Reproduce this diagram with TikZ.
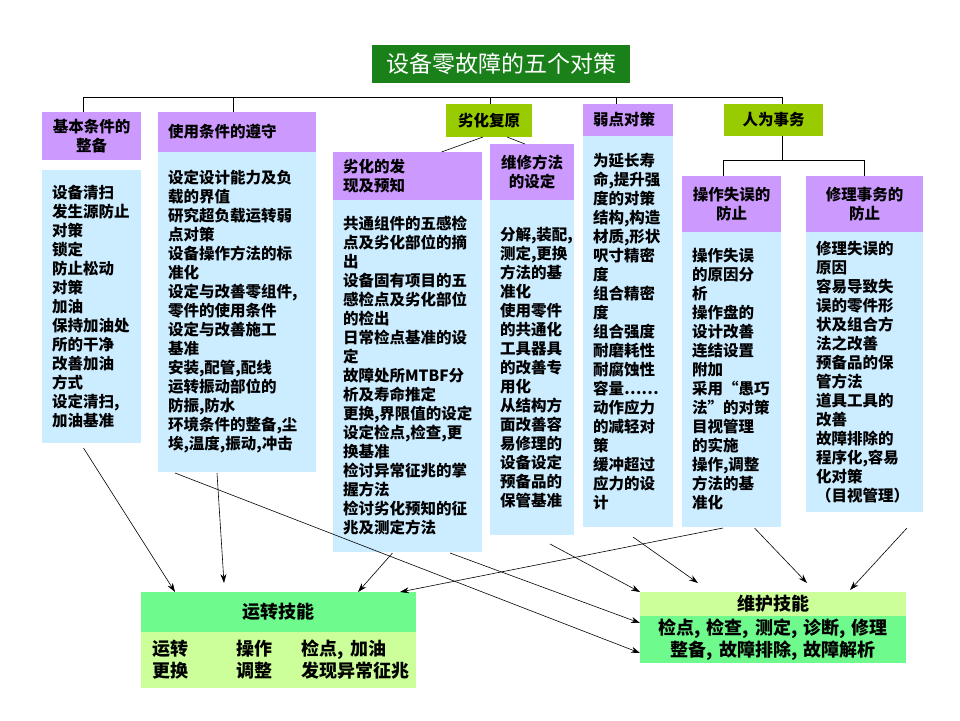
\documentclass[tikz,border=0pt]{standalone}
\usepackage{fontspec}
\setmainfont{Noto Sans CJK SC}
\usetikzlibrary{positioning}
\usetikzlibrary{arrows.meta}
\definecolor{titlegreen}{RGB}{26,128,26}
\definecolor{headpurple}{RGB}{204,153,255}
\definecolor{bodyblue}{RGB}{204,236,255}
\definecolor{taggreen}{RGB}{153,204,0}
\definecolor{skillgreen}{RGB}{110,250,140}
\definecolor{skilllime}{RGB}{204,255,153}
\tikzset{
  titlebox/.style={rectangle,fill=titlegreen,text=white,
                   minimum width=258pt,minimum height=38pt,
                   font=\fontsize{23}{26}\selectfont},
  tagbox/.style={rectangle,fill=taggreen,anchor=north west,align=center,
                 inner xsep=10pt,inner ysep=0pt,outer sep=0pt,
                 font=\fontsize{15.5}{19}\selectfont\bfseries},
  headbox/.style={rectangle,fill=headpurple,anchor=north west,align=left,
                  inner xsep=10pt,inner ysep=0pt,outer sep=0pt,
                  font=\fontsize{15.5}{19}\selectfont\bfseries},
  bodybox/.style={rectangle,fill=bodyblue,align=left,
                  inner xsep=10pt,inner ysep=0pt,outer sep=0pt,
                  font=\fontsize{15.5}{19}\selectfont\bfseries},
  skillbox/.style={rectangle,align=center,
                   inner xsep=10pt,inner ysep=0pt,outer sep=0pt,
                   font=\fontsize{18}{22}\selectfont\bfseries},
  treeline/.style={line width=0.8pt},
  skillarrow/.style={-{Stealth[length=9pt,width=6pt]},line width=0.6pt},
}
\begin{document}
\begin{tikzpicture}[x=1pt,y=-1pt]
  \useasboundingbox (0,0) rectangle (960,720);
  % title
  \node[titlebox] (title) at (501,64) {设备零故障的五个对策};

  % tags
  \node[tagbox,text width=66pt,minimum height=33pt] (degtag) at (446,104) {劣化复原};
  \node[tagbox,text width=79pt,minimum height=32pt] (humtag) at (724,104) {人为事务};

  % headers
  \node[headbox,align=center,text width=79pt,minimum height=48pt] (basehd) at (42,112) {基本条件的\\整备};
  \node[headbox,text width=138pt,minimum height=40pt] (usehd) at (158,112) {使用条件的遵守};
  \node[headbox,text width=129pt,minimum height=48pt] (dethd) at (333,152) {劣化的发\\现及预知};
  \node[headbox,align=center,text width=64pt,minimum height=56pt] (rephd) at (490,144) {维修方法\\的设定};
  \node[headbox,text width=70pt,minimum height=32pt] (weakhd) at (583,104) {弱点对策};
  \node[headbox,align=center,text width=79pt,minimum height=56pt] (ophd) at (682,176) {操作失误的\\防止};
  \node[headbox,align=center,text width=97pt,minimum height=56pt] (fixhd) at (806,176) {修理事务的\\防止};

  % bodies
  \node[bodybox,text width=79pt,minimum height=273pt] (basebd) [below=10pt of basehd]
    {设备清扫\\发生源防止\\对策\\锁定\\防止松动\\对策\\加油\\保持加油处\\所的干净\\改善加油\\方式\\设定清扫,\\加油基准};
  \node[bodybox,text width=138pt,minimum height=320pt] (usebd) [below=0pt of usehd]
    {设定设计能力及负\\载的界值\\研究超负载运转弱\\点对策\\设备操作方法的标\\准化\\设定与改善零组件,\\零件的使用条件\\设定与改善施工\\基准\\安装,配管,配线\\运转振动部位的\\防振,防水\\环境条件的整备,尘\\埃,温度,振动,冲击};
  \node[bodybox,text width=129pt,minimum height=352pt] (detbd) [below=0pt of dethd]
    {共通组件的五感检\\点及劣化部位的摘\\出\\设备固有项目的五\\感检点及劣化部位\\的检出\\日常检点基准的设\\定\\故障处所MTBF分\\析及寿命推定\\更换,界限值的设定\\设定检点,检查,更\\换基准\\检讨异常征兆的掌\\握方法\\检讨劣化预知的征\\兆及测定方法};
  \node[bodybox,text width=64pt,minimum height=335pt] (repbd) [below=0pt of rephd]
    {分解,装配,\\测定,更换\\方法的基\\准化\\使用零件\\的共通化\\工具器具\\的改善专\\用化\\从结构方\\面改善容\\易修理的\\设备设定\\预备品的\\保管基准};
  \node[bodybox,text width=70pt,minimum height=391pt] (weakbd) [below=0pt of weakhd]
    {为延长寿\\命,提升强\\度的对策\\结构,构造\\材质,形状\\呎寸精密\\度\\组合精密\\度\\组合强度\\耐磨耗性\\耐腐蚀性\\容量……\\动作应力\\的减轻对\\策\\缓冲超过\\应力的设\\计};
  \node[bodybox,text width=79pt,minimum height=295pt] (opbd) [below=0pt of ophd]
    {操作失误\\的原因分\\析\\操作盘的\\设计改善\\连结设置\\附加\\采用“愚巧\\法”的对策\\目视管理\\的实施\\操作,调整\\方法的基\\准化};
  \node[bodybox,text width=97pt,minimum height=280pt] (fixbd) [below=0pt of fixhd]
    {修理失误的\\原因\\容易导致失\\误的零件形\\状及组合方\\法之改善\\预备品的保\\管方法\\道具工具的\\改善\\故障排除的\\程序化,容易\\化对策\\（目视管理）};

  % skills
  \node[skillbox,fill=skillgreen,anchor=north west,text width=255pt,minimum height=40pt] (runhd) at (141,592) {运转技能};
  \node[skillbox,fill=skilllime,align=left,inner xsep=11pt,text width=253pt,minimum height=56pt] (runbd) [below=0pt of runhd]
    {\makebox[85pt][l]{运转}\makebox[65pt][l]{操作}检点, 加油\\
     \makebox[85pt][l]{更换}\makebox[65pt][l]{调整}发现异常征兆};
  \node[skillbox,fill=skilllime,anchor=north west,text width=246pt,minimum height=24pt] (mnthd) at (640,592) {维护技能};
  \node[skillbox,fill=skillgreen,text width=246pt,minimum height=47pt] (mntbd) [below=0pt of mnthd]
    {检点, 检查, 测定, 诊断, 修理\\整备, 故障排除, 故障解析};

  % tree
  \coordinate (busA) at (83,97);
  \coordinate (busB) at (233,97);
  \coordinate (busC) at (490,97);
  \coordinate (busD) at (616,97);
  \coordinate (busE) at (782,97);
  \coordinate (splitL) at (723,160);
  \coordinate (splitR) at (864,160);
  \draw[treeline] (busA) -- (busE);
  \foreach \bus/\hd in {busA/basehd,busB/usehd,busC/degtag,busD/weakhd,busE/humtag}
    \draw[treeline] (\bus) -- (\bus |- \hd.north);
  \draw[treeline] (busE |- humtag.south) -- (busE |- splitL);
  \draw[treeline] (splitL |- ophd.north) -- (splitL) -- (splitR) -- (splitR |- fixhd.north);
  \draw[line width=0.6pt] ([xshift=-6pt]degtag.south) -- ([xshift=34pt]dethd.north);
  \draw[line width=0.6pt] ([xshift=18pt]degtag.south) -- ([xshift=-7pt]rephd.north);

  % skill arrows
  \draw[skillarrow] ([xshift=-8pt,yshift=-5pt]basebd.south) -- ([xshift=34pt]runhd.north west);
  \draw[skillarrow] ([xshift=-20pt,yshift=-1pt]usebd.south) -- ([xshift=83pt,yshift=9pt]runhd.north west);
  \draw[skillarrow] ([xshift=17pt,yshift=-1pt]usebd.south west) -- ([yshift=10pt]mntbd.south west);
  \draw[skillarrow] ([xshift=-15pt,yshift=-1pt]detbd.south) -- ([xshift=217pt]runhd.north west);
  \draw[skillarrow] ([xshift=-32pt,yshift=-1pt]detbd.south east) -- ([yshift=-7pt]mntbd.north west);
  \draw[skillarrow] ([xshift=18pt,yshift=-9pt]repbd.south) -- (mnthd.north west);
  \draw[skillarrow] ([xshift=5pt,yshift=-10pt]weakbd.south) -- ([xshift=58pt,yshift=9pt]mnthd.north west);
  \draw[skillarrow] ([xshift=41pt,yshift=-1pt]opbd.south west) -- ([xshift=-16pt]runhd.north east);
  \draw[skillarrow] ([xshift=23pt,yshift=-1pt]opbd.south) -- ([xshift=34pt,yshift=9pt]mnthd.north);
  \draw[skillarrow] ([xshift=-16pt,yshift=-16pt]fixbd.south east) -- ([xshift=77pt,yshift=2pt]mnthd.north);
\end{tikzpicture}
\end{document}
